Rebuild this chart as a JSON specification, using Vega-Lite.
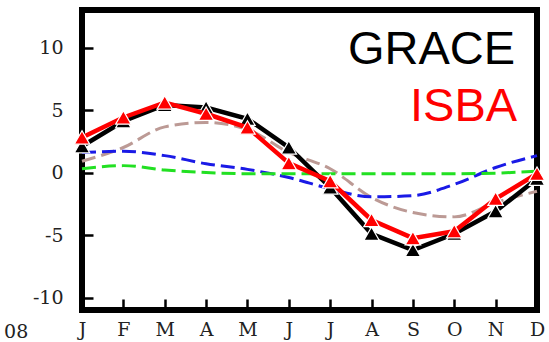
{
  "$schema": "https://vega.github.io/schema/vega-lite/v6.json",
  "autosize": "none",
  "padding": {"left": 82, "top": 10, "right": 12, "bottom": 32},
  "width": 455,
  "height": 300,
  "background": "white",
  "config": {
    "view": {"stroke": "black", "strokeWidth": 6},
    "axis": {
      "grid": false,
      "domain": false,
      "tickColor": "black",
      "tickWidth": 2.5,
      "tickSize": -11,
      "labelFont": "DejaVu Serif",
      "labelFontSize": 19,
      "labelColor": "#222",
      "labelFlush": false,
      "labelOverlap": false,
      "title": null
    }
  },
  "datasets": {
    "series": [
      {"month": 0, "series": "GRACE", "value": 2.1},
      {"month": 1, "series": "GRACE", "value": 4.1},
      {"month": 2, "series": "GRACE", "value": 5.4},
      {"month": 3, "series": "GRACE", "value": 5.2},
      {"month": 4, "series": "GRACE", "value": 4.3},
      {"month": 5, "series": "GRACE", "value": 2.0},
      {"month": 6, "series": "GRACE", "value": -1.2},
      {"month": 7, "series": "GRACE", "value": -4.9},
      {"month": 8, "series": "GRACE", "value": -6.2},
      {"month": 9, "series": "GRACE", "value": -4.9},
      {"month": 10, "series": "GRACE", "value": -3.1},
      {"month": 11, "series": "GRACE", "value": -0.5},
      {"month": 0, "series": "ISBA", "value": 2.8},
      {"month": 1, "series": "ISBA", "value": 4.4},
      {"month": 2, "series": "ISBA", "value": 5.6},
      {"month": 3, "series": "ISBA", "value": 4.7},
      {"month": 4, "series": "ISBA", "value": 3.6},
      {"month": 5, "series": "ISBA", "value": 0.75},
      {"month": 6, "series": "ISBA", "value": -0.7},
      {"month": 7, "series": "ISBA", "value": -3.8},
      {"month": 8, "series": "ISBA", "value": -5.25},
      {"month": 9, "series": "ISBA", "value": -4.7},
      {"month": 10, "series": "ISBA", "value": -2.1},
      {"month": 11, "series": "ISBA", "value": -0.1},
      {"month": 0, "series": "comp1", "value": 0.9},
      {"month": 1, "series": "comp1", "value": 2.0},
      {"month": 2, "series": "comp1", "value": 3.65},
      {"month": 3, "series": "comp1", "value": 4.0},
      {"month": 4, "series": "comp1", "value": 3.45},
      {"month": 5, "series": "comp1", "value": 1.6},
      {"month": 6, "series": "comp1", "value": 0.3},
      {"month": 7, "series": "comp1", "value": -2.0},
      {"month": 8, "series": "comp1", "value": -3.2},
      {"month": 9, "series": "comp1", "value": -3.55},
      {"month": 10, "series": "comp1", "value": -2.4},
      {"month": 11, "series": "comp1", "value": -1.5},
      {"month": 0, "series": "comp2", "value": 1.6},
      {"month": 1, "series": "comp2", "value": 1.7},
      {"month": 2, "series": "comp2", "value": 1.35},
      {"month": 3, "series": "comp2", "value": 0.7},
      {"month": 4, "series": "comp2", "value": 0.25},
      {"month": 5, "series": "comp2", "value": -0.4},
      {"month": 6, "series": "comp2", "value": -1.3},
      {"month": 7, "series": "comp2", "value": -1.95},
      {"month": 8, "series": "comp2", "value": -1.85},
      {"month": 9, "series": "comp2", "value": -0.95},
      {"month": 10, "series": "comp2", "value": 0.4},
      {"month": 11, "series": "comp2", "value": 1.35},
      {"month": 0, "series": "comp3", "value": 0.3},
      {"month": 1, "series": "comp3", "value": 0.55},
      {"month": 2, "series": "comp3", "value": 0.2},
      {"month": 3, "series": "comp3", "value": 0.0},
      {"month": 4, "series": "comp3", "value": -0.1},
      {"month": 5, "series": "comp3", "value": -0.1},
      {"month": 6, "series": "comp3", "value": -0.1},
      {"month": 7, "series": "comp3", "value": -0.1},
      {"month": 8, "series": "comp3", "value": -0.1},
      {"month": 9, "series": "comp3", "value": -0.1},
      {"month": 10, "series": "comp3", "value": -0.05},
      {"month": 11, "series": "comp3", "value": 0.1}
    ],
    "labels": [
      {"text": "GRACE", "month": 10.47, "value": 8.67, "kind": "GRACE"},
      {"text": "ISBA", "month": 10.52, "value": 4.14, "kind": "ISBA"}
    ],
    "year": [
      {"text": "08", "month": -1.3, "value": -13.2}
    ]
  },
  "layer": [
    {
      "data": {"name": "series"},
      "transform": [{"filter": "datum.series !== 'GRACE' && datum.series !== 'ISBA'"}],
      "mark": {"type": "line", "strokeWidth": 3, "strokeDash": [14, 6], "interpolate": "monotone"},
      "encoding": {
        "x": {
          "field": "month", "type": "quantitative",
          "scale": {"domain": [0, 11], "nice": false, "zero": false},
          "axis": {
            "values": [0, 1, 2, 3, 4, 5, 6, 7, 8, 9, 10, 11],
            "labelExpr": "['J','F','M','A','M','J','J','A','S','O','N','D'][datum.value]",
            "labelPadding": 21
          }
        },
        "y": {
          "field": "value", "type": "quantitative",
          "scale": {"domain": [-11, 13], "nice": false, "zero": false},
          "axis": {
            "values": [-10, -5, 0, 5, 10],
            "labelExpr": "'' + datum.value",
            "labelPadding": 30
          }
        },
        "color": {
          "field": "series", "type": "nominal",
          "scale": {"domain": ["comp1", "comp2", "comp3"], "range": ["#bc9a95", "#1a1ae6", "#22e022"]},
          "legend": null
        },
        "order": {"field": "month"}
      }
    },
    {
      "data": {"name": "series"},
      "transform": [{"filter": "datum.series === 'GRACE'"}],
      "mark": {"type": "line", "color": "black", "strokeWidth": 4.5, "point": {"shape": "triangle-up", "size": 240, "filled": true, "color": "black", "stroke": "white", "strokeWidth": 1.2}},
      "encoding": {
        "x": {"field": "month", "type": "quantitative"},
        "y": {"field": "value", "type": "quantitative"}
      }
    },
    {
      "data": {"name": "series"},
      "transform": [{"filter": "datum.series === 'ISBA'"}],
      "mark": {"type": "line", "color": "#ff0000", "strokeWidth": 4.5, "point": {"shape": "triangle-up", "size": 240, "filled": true, "color": "#ff0000", "stroke": "white", "strokeWidth": 1.2}},
      "encoding": {
        "x": {"field": "month", "type": "quantitative"},
        "y": {"field": "value", "type": "quantitative"}
      }
    },
    {
      "data": {"name": "labels"},
      "mark": {"type": "text", "align": "right", "baseline": "alphabetic", "font": "Liberation Sans", "fontSize": 47},
      "encoding": {
        "x": {"field": "month", "type": "quantitative"},
        "y": {"field": "value", "type": "quantitative"},
        "text": {"field": "text"},
        "color": {"field": "kind", "type": "nominal", "scale": {"domain": ["GRACE", "ISBA"], "range": ["black", "#ff0000"]}, "legend": null}
      }
    },
    {
      "data": {"name": "year"},
      "mark": {"type": "text", "align": "right", "baseline": "alphabetic", "font": "DejaVu Serif", "fontSize": 19, "color": "#222"},
      "encoding": {
        "x": {"field": "month", "type": "quantitative"},
        "y": {"field": "value", "type": "quantitative"},
        "text": {"field": "text"}
      }
    }
  ],
  "resolve": {"scale": {"color": "independent"}}
}
